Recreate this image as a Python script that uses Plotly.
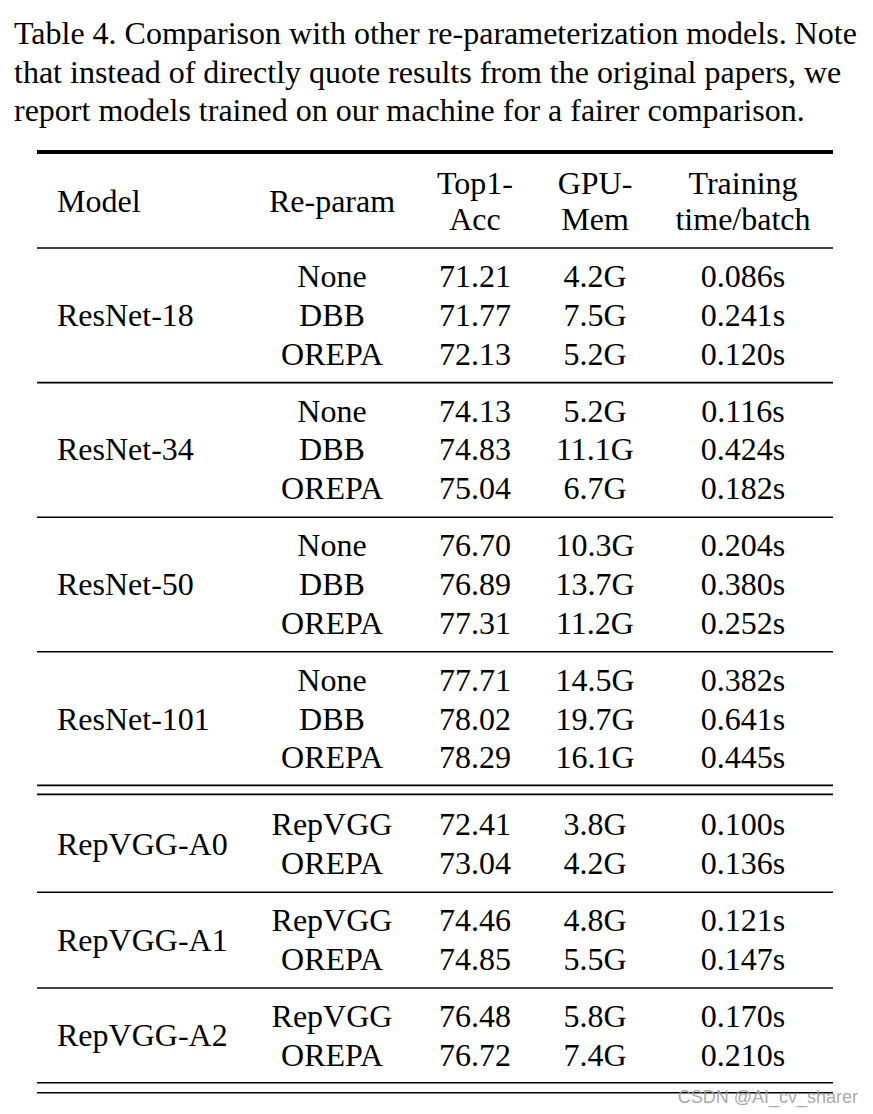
import plotly.graph_objects as go

# ---------------- data ----------------
caption_lines = [
    "Table 4. Comparison with other re-parameterization models. Note",
    "that instead of directly quote results from the original papers, we",
    "report models trained on our machine for a fairer comparison.",
]
header_top = ["", "", "Top1-", "GPU-", "Training"]
header_bottom = ["", "", "Acc", "Mem", "time/batch"]
header_single = ["Model", "Re-param"]

models = ["ResNet-18", "ResNet-34", "ResNet-50", "ResNet-101",
          "RepVGG-A0", "RepVGG-A1", "RepVGG-A2"]
reparam = [
    ["None", "DBB", "OREPA"],
    ["None", "DBB", "OREPA"],
    ["None", "DBB", "OREPA"],
    ["None", "DBB", "OREPA"],
    ["RepVGG", "OREPA"],
    ["RepVGG", "OREPA"],
    ["RepVGG", "OREPA"],
]
top1 = [
    ["71.21", "71.77", "72.13"],
    ["74.13", "74.83", "75.04"],
    ["76.70", "76.89", "77.31"],
    ["77.71", "78.02", "78.29"],
    ["72.41", "73.04"],
    ["74.46", "74.85"],
    ["76.48", "76.72"],
]
gpu_mem = [
    ["4.2G", "7.5G", "5.2G"],
    ["5.2G", "11.1G", "6.7G"],
    ["10.3G", "13.7G", "11.2G"],
    ["14.5G", "19.7G", "16.1G"],
    ["3.8G", "4.2G"],
    ["4.8G", "5.5G"],
    ["5.8G", "7.4G"],
]
train_time = [
    ["0.086s", "0.241s", "0.120s"],
    ["0.116s", "0.424s", "0.182s"],
    ["0.204s", "0.380s", "0.252s"],
    ["0.382s", "0.641s", "0.445s"],
    ["0.100s", "0.136s"],
    ["0.121s", "0.147s"],
    ["0.170s", "0.210s"],
]
watermark = "CSDN @AI_cv_sharer"

# ---------------- layout parameters ----------------
W, H = 873, 1114
OFF = 8   # page body margin
TXT_DY = 3  # vertical correction for text centring
FONT = "Liberation Serif, Times New Roman, serif"
FS = 32
col_x = [57, 332, 475, 595, 743]       # model left edge, then centres
table_x0, table_x1 = 37, 833
cap_y0, cap_pitch = 33, 38.5
top_rule_y = 152
head_y = [183, 219]
head_rule_y = 248
first_row_y = 276
row_pitch = 38.8
group_gap = 57
double_gap = 67
double_after = 3   # group index after which a double rule appears

fig = go.Figure()

def tfont(size=FS):
    return dict(family=FONT, size=size, color="black")

# caption
fig.add_trace(go.Scatter(
    x=[14] * len(caption_lines),
    y=[cap_y0 + TXT_DY + i * cap_pitch for i in range(len(caption_lines))],
    text=caption_lines, mode="text", textposition="middle right",
    textfont=tfont(), hoverinfo="skip"))

# header
hy_mid = (head_y[0] + head_y[1]) / 2 + TXT_DY
fig.add_trace(go.Scatter(
    x=[col_x[0]], y=[hy_mid], text=[header_single[0]],
    mode="text", textposition="middle right", textfont=tfont(), hoverinfo="skip"))
fig.add_trace(go.Scatter(
    x=[col_x[1]], y=[hy_mid], text=[header_single[1]],
    mode="text", textposition="middle center", textfont=tfont(), hoverinfo="skip"))
fig.add_trace(go.Scatter(
    x=col_x[2:] + col_x[2:],
    y=[head_y[0] + TXT_DY] * 3 + [head_y[1] + TXT_DY] * 3,
    text=header_top[2:] + header_bottom[2:], mode="text",
    textposition="middle center", textfont=tfont(), hoverinfo="skip"))

# body
cell_x, cell_y, cell_t = [], [], []
model_x, model_y, model_t = [], [], []
thin_rules, double_rules = [], []
y = first_row_y
for g, name in enumerate(models):
    n = len(reparam[g])
    ys = [y + i * row_pitch for i in range(n)]
    model_x.append(col_x[0]); model_y.append(sum(ys) / n + TXT_DY); model_t.append(name)
    for i in range(n):
        for c, col in enumerate([reparam, top1, gpu_mem, train_time]):
            cell_x.append(col_x[c + 1]); cell_y.append(ys[i] + TXT_DY)
            cell_t.append(col[g][i])
    last = ys[-1]
    if g == double_after:
        double_rules += [last + 28, last + 37]
        y = last + double_gap
    elif g < len(models) - 1:
        thin_rules.append(last + 29)
        y = last + group_gap
    else:
        double_rules += [last + 28, last + 38]

fig.add_trace(go.Scatter(
    x=model_x, y=model_y, text=model_t, mode="text", textposition="middle right",
    textfont=tfont(), hoverinfo="skip"))
fig.add_trace(go.Scatter(
    x=cell_x, y=cell_y, text=cell_t, mode="text", textposition="middle center",
    textfont=tfont(), hoverinfo="skip"))

# rules
def rule_xy(ys):
    xs, yy = [], []
    for v in ys:
        xs += [table_x0, table_x1, None]
        yy += [v, v, None]
    return xs, yy

xs, yy = rule_xy([top_rule_y])
fig.add_trace(go.Scatter(x=xs, y=yy, mode="lines",
                         line=dict(color="black", width=4), hoverinfo="skip"))
xs, yy = rule_xy([head_rule_y] + thin_rules + double_rules)
fig.add_trace(go.Scatter(x=xs, y=yy, mode="lines",
                         line=dict(color="black", width=1.6), hoverinfo="skip"))

# watermark
fig.add_trace(go.Scatter(
    x=[858], y=[1098], text=[watermark], mode="text", textposition="middle left",
    textfont=dict(family="Liberation Sans, Arial, sans-serif", size=18,
                  color="rgba(160,160,160,0.9)"), hoverinfo="skip"))

fig.update_layout(
    width=W, height=H, margin=dict(l=0, r=0, t=0, b=0),
    paper_bgcolor="white", plot_bgcolor="white", showlegend=False,
    xaxis=dict(range=[OFF, W + OFF], visible=False, fixedrange=True),
    yaxis=dict(range=[H + OFF, OFF], visible=False, fixedrange=True),
)
fig.write_html("out.html")
